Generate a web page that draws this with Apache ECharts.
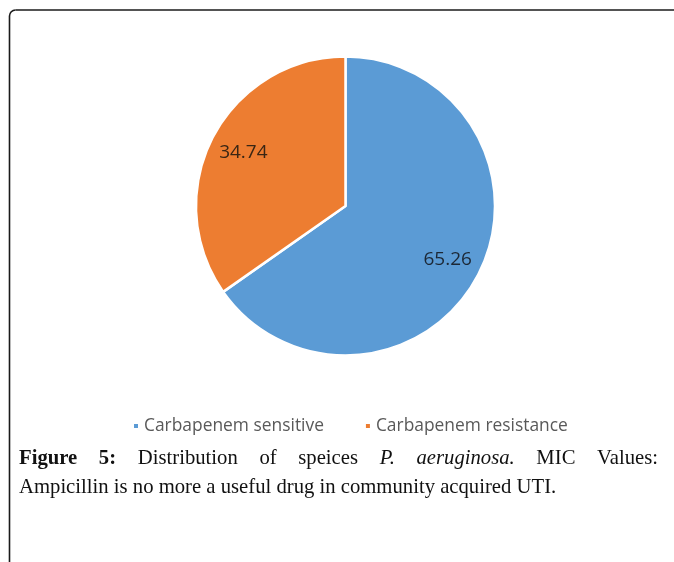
<!DOCTYPE html>
<html>
<head>
<meta charset="utf-8">
<script src="https://cdn.jsdelivr.net/npm/echarts@6/dist/echarts.min.js"></script>
<style>
  html, body { margin: 0; padding: 0; background: #ffffff; }
  #chart { width: 674px; height: 562px; }
</style>
</head>
<body>
<div id="chart"></div>
<script>
// Pie categories and their percentage shares
const categories = ['Carbapenem sensitive', 'Carbapenem resistance'];
const shares = [65.26, 34.74];
const sliceColors = ['#5B9BD5', '#ED7D31'];
const labelColors = ['#1c2836', '#3a2614'];

// Caption words (first line is justified across the frame)
const captionLine1 = [
  { t: 'Figure', w: 'bold', s: 'normal' },
  { t: '5:', w: 'bold', s: 'normal' },
  { t: 'Distribution', w: 'normal', s: 'normal' },
  { t: 'of', w: 'normal', s: 'normal' },
  { t: 'speices', w: 'normal', s: 'normal' },
  { t: 'P.', w: 'normal', s: 'italic' },
  { t: 'aeruginosa.', w: 'normal', s: 'italic' },
  { t: 'MIC', w: 'normal', s: 'normal' },
  { t: 'Values:', w: 'normal', s: 'normal' }
];
const captionLine2 = 'Ampicillin is no more a useful drug in community acquired UTI.';

const captionFont = 'Liberation Serif';
const captionSize = 20.7;
const captionLeft = 19;
const captionRight = 658;
const captionY1 = 459;
const captionY2 = 488;

// measure words so the first caption line can be justified
const measureCtx = document.createElement('canvas').getContext('2d');
function wordWidth(word) {
  measureCtx.font = word.s + ' ' + word.w + ' ' + captionSize + 'px "' + captionFont + '"';
  return measureCtx.measureText(word.t).width;
}
const widths = captionLine1.map(wordWidth);
const totalWords = widths.reduce((a, b) => a + b, 0);
const gap = (captionRight - captionLeft - totalWords) / (captionLine1.length - 1);

const captionElements = [];
let cursor = captionLeft;
captionLine1.forEach((word, i) => {
  captionElements.push({
    type: 'text',
    x: cursor,
    y: captionY1,
    silent: true,
    style: {
      text: word.t,
      fontFamily: captionFont,
      fontSize: captionSize,
      fontWeight: word.w,
      fontStyle: word.s,
      fill: '#111111',
      verticalAlign: 'middle'
    }
  });
  cursor += widths[i] + gap;
});
captionElements.push({
  type: 'text',
  x: captionLeft,
  y: captionY2,
  silent: true,
  style: {
    text: captionLine2,
    fontFamily: captionFont,
    fontSize: captionSize,
    fill: '#111111',
    verticalAlign: 'middle'
  }
});

const pieData = categories.map((name, i) => ({
  name: name,
  value: shares[i],
  itemStyle: { color: sliceColors[i] }
}));
const labelData = categories.map((name, i) => ({
  name: name,
  value: shares[i],
  label: { color: labelColors[i] }
}));

const center = [345.5, 206];
const outerR = 149.5;
const frameStyle = { stroke: '#1a1a1a', lineWidth: 1.6, fill: null };

const chart = echarts.init(document.getElementById('chart'), null, { renderer: 'canvas' });
chart.setOption({
  animation: false,
  backgroundColor: '#ffffff',
  legend: {
    data: categories,
    left: 132,
    top: 416,
    padding: 0,
    icon: 'rect',
    itemWidth: 6,
    itemHeight: 6,
    itemGap: 40,
    selectedMode: false,
    textStyle: {
      fontFamily: 'Open Sans',
      fontSize: 17.4,
      color: '#595959',
      lineHeight: 20
    }
  },
  series: [
    {
      type: 'pie',
      center: center,
      radius: [0, outerR],
      startAngle: 90,
      clockwise: true,
      silent: true,
      label: { show: false },
      labelLine: { show: false },
      itemStyle: { borderColor: '#ffffff', borderWidth: 2.5 },
      emphasis: { disabled: true },
      data: pieData
    },
    {
      // label carrier: transparent ring that places the values toward the rim
      type: 'pie',
      center: center,
      radius: [outerR * 0.5, outerR],
      startAngle: 90,
      clockwise: true,
      silent: true,
      itemStyle: { color: 'transparent', borderWidth: 0 },
      label: {
        show: true,
        position: 'inside',
        formatter: (p) => p.value.toFixed(2),
        fontFamily: 'Open Sans',
        fontSize: 19
      },
      labelLine: { show: false },
      emphasis: { disabled: true },
      data: labelData
    }
  ],
  graphic: [
    // frame: left rule, rounded top-left corner, top rule
    { type: 'line', silent: true, shape: { x1: 9.5, y1: 562, x2: 9.5, y2: 16 }, style: frameStyle },
    { type: 'arc', silent: true, shape: { cx: 15.5, cy: 16, r: 6, startAngle: Math.PI, endAngle: Math.PI * 1.5 }, style: frameStyle },
    { type: 'line', silent: true, shape: { x1: 15.5, y1: 10, x2: 674, y2: 10 }, style: frameStyle }
  ].concat(captionElements)
});
</script>
</body>
</html>
